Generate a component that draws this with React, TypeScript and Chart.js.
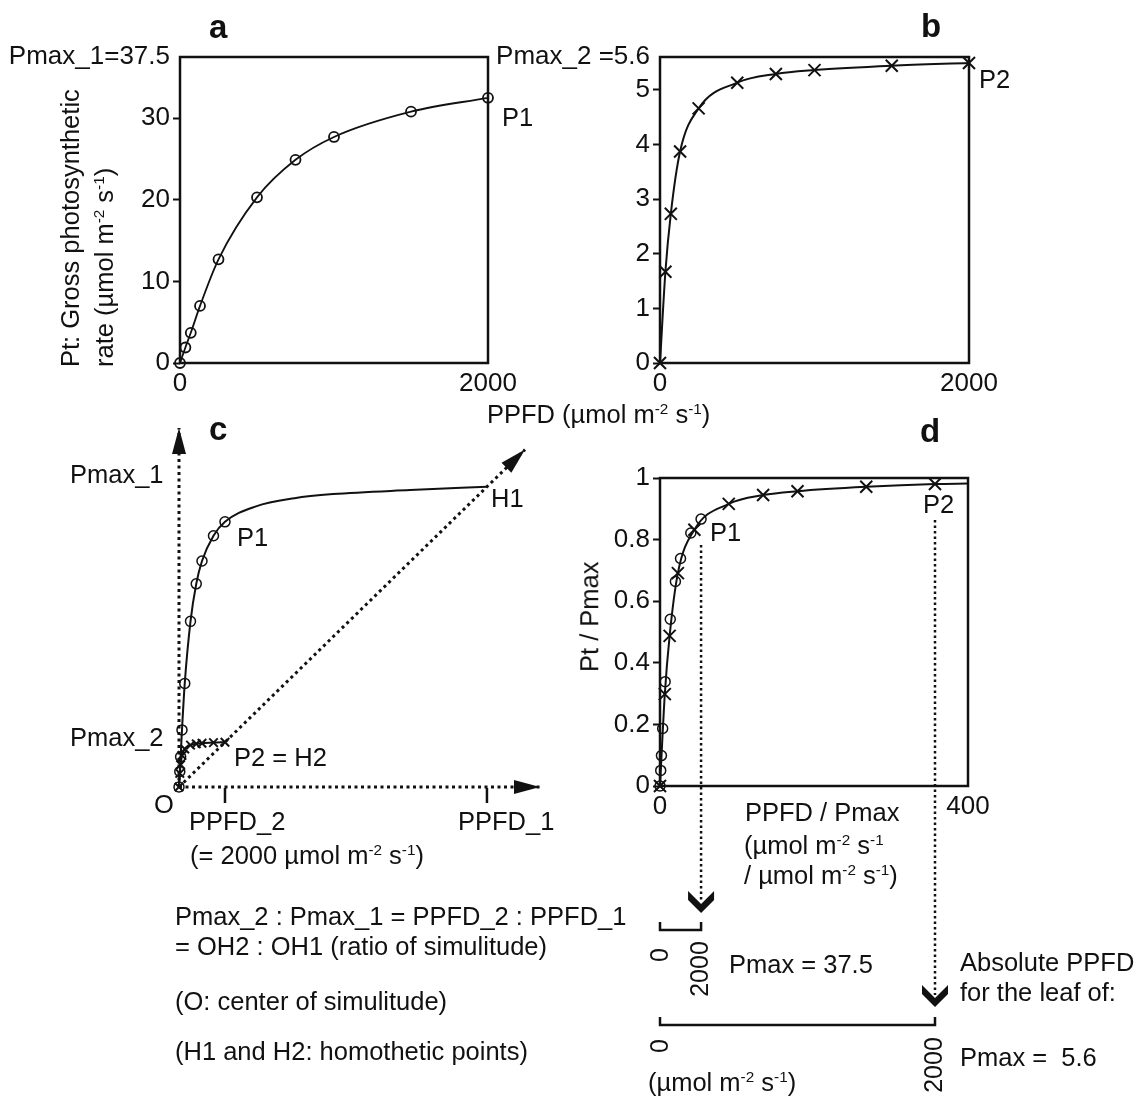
import React, { useEffect, useRef } from "react";
import { Chart, registerables } from "chart.js";

Chart.register(...registerables);

const FONT = "'Liberation Sans', Arial, Helvetica, sans-serif";
const INK = "#111";
Chart.defaults.font.family = FONT;
Chart.defaults.color = INK;

// ---------------- data ----------------
const ppfdLevels = [0, 35, 70, 130, 250, 500, 750, 1000, 1500, 2000];
const ptLeaf1 = [0, 1.9, 3.7, 7.0, 12.7, 20.3, 24.9, 27.7, 30.8, 32.5];
const ptLeaf2 = [0, 1.67, 2.73, 3.87, 4.66, 5.13, 5.29, 5.36, 5.44, 5.49];
const pmaxLeaf1 = 37.5;
const pmaxLeaf2 = 5.6;

const aYTicks = [0, 10, 20, 30];
const bYTicks = [0, 1, 2, 3, 4, 5];
const abXTicks = [0, 2000];
const dXTicks = [0, 400];
const dYTicks = [0, 0.2, 0.4, 0.6, 0.8, 1];

// panel c: leaf-1 curve continued beyond P1 up to the homothetic point H1
const cExtPpfd = [3348, 5022, 6696, 10045, 13393];
const cExtPt = [34.4, 35.4, 35.9, 36.4, 36.8];
const cRange = [15700, 44];
const cDiagTip = [15050, 41.35];
const cPpfdMarks = [2000, 13393];

// panel d: normalised curve reaches the right frame here
const dCurveEnd = [400, 0.982];
const absPpfdMax = 2000;

// ---------------- helpers ----------------
const pts = (xs: number[], ys: number[]) => xs.map((x, i) => ({ x, y: ys[i] }));
const leaf1 = pts(ppfdLevels, ptLeaf1);
const leaf2 = pts(ppfdLevels, ptLeaf2);
const leaf1Norm = pts(ppfdLevels.map((v) => v / pmaxLeaf1), ptLeaf1.map((v) => v / pmaxLeaf1));
const leaf2Norm = pts(ppfdLevels.map((v) => v / pmaxLeaf2), ptLeaf2.map((v) => v / pmaxLeaf2));

const frame = {
  id: "frame",
  afterDatasetsDraw(chart: any) {
    const { ctx, chartArea: a } = chart;
    ctx.save();
    ctx.strokeStyle = INK;
    ctx.lineWidth = 2.5;
    ctx.strokeRect(a.left, a.top, a.right - a.left, a.bottom - a.top);
    ctx.restore();
  },
};

function axes(o: any) {
  return {
    x: {
      type: "linear",
      min: o.xMin,
      max: o.xMax,
      afterBuildTicks: (s: any) => {
        s.ticks = o.xTicks.map((v: number) => ({ value: v }));
      },
      afterFit: (s: any) => {
        s.height = 40;
      },
      grid: { display: false, drawTicks: false },
      border: { display: false },
      ticks: {
        autoSkip: false,
        maxRotation: 0,
        padding: 5,
        color: INK,
        font: { size: 26, family: FONT },
        callback: (v: number) => String(v),
      },
    },
    y: {
      type: "linear",
      min: o.yMin,
      max: o.yMax,
      afterBuildTicks: (s: any) => {
        s.ticks = o.yTicks.map((v: number) => ({ value: v }));
      },
      afterFit: (s: any) => {
        s.width = o.yWidth;
      },
      grid: {
        drawOnChartArea: false,
        drawTicks: true,
        tickLength: 7,
        tickWidth: 2,
        color: INK,
        tickColor: (c: any) => (c.tick && c.tick.value === o.noTick ? "rgba(0,0,0,0)" : INK),
      },
      border: { display: false },
      ticks: {
        autoSkip: false,
        padding: 3,
        color: INK,
        font: { size: 26, family: FONT },
        callback: o.yLabel || ((v: number) => String(v)),
      },
    },
  };
}

const baseOpts = (padding: any) => ({
  responsive: false,
  animation: false,
  devicePixelRatio: 1,
  layout: { padding },
  plugins: { legend: { display: false }, tooltip: { enabled: false } },
  events: [],
});

const circleStyle = { pointStyle: "circle", pointRadius: 5, borderWidth: 1.5, borderColor: INK, backgroundColor: "rgba(0,0,0,0)" };
const crossStyle = { pointStyle: "crossRot", pointRadius: 8.5, borderWidth: 2, borderColor: INK, backgroundColor: INK };

function arrowHead(ctx: any, x1: number, y1: number, x2: number, y2: number, len = 26, half = 7) {
  const ang = Math.atan2(y2 - y1, x2 - x1);
  ctx.save();
  ctx.translate(x2, y2);
  ctx.rotate(ang);
  ctx.beginPath();
  ctx.moveTo(0, 0);
  ctx.lineTo(-len, -half);
  ctx.lineTo(-len, half);
  ctx.closePath();
  ctx.fill();
  ctx.restore();
}

function chevron(ctx: any, x: number, tipY: number) {
  ctx.beginPath();
  ctx.moveTo(x - 13, tipY - 22);
  ctx.lineTo(x, tipY - 9);
  ctx.lineTo(x + 13, tipY - 22);
  ctx.lineTo(x + 13, tipY - 13);
  ctx.lineTo(x, tipY);
  ctx.lineTo(x - 13, tipY - 13);
  ctx.closePath();
  ctx.fill();
}

// ---------------- chart configs ----------------
const configA = () => ({
  type: "scatter",
  data: {
    datasets: [
      { data: leaf1, showLine: true, cubicInterpolationMode: "monotone", clip: false, ...circleStyle, borderWidth: 1.8 },
    ],
  },
  options: {
    ...baseOpts({ left: 0, top: 57, right: 72, bottom: 17 }),
    scales: axes({
      xMin: 0, xMax: 2000, xTicks: abXTicks,
      yMin: 0, yMax: pmaxLeaf1, yTicks: [...aYTicks, pmaxLeaf1], yWidth: 180, noTick: pmaxLeaf1,
      yLabel: (v: number) => (v === pmaxLeaf1 ? "Pmax_1=" + pmaxLeaf1 : String(v)),
    }),
  },
  plugins: [frame],
});

const configB = () => ({
  type: "scatter",
  data: {
    datasets: [
      { data: leaf2, showLine: true, cubicInterpolationMode: "monotone", clip: false, ...crossStyle },
    ],
  },
  options: {
    ...baseOpts({ left: 0, top: 57, right: 175, bottom: 17 }),
    scales: axes({
      xMin: 0, xMax: 2000, xTicks: abXTicks,
      yMin: 0, yMax: pmaxLeaf2, yTicks: [...bYTicks, pmaxLeaf2], yWidth: 170, noTick: pmaxLeaf2,
      yLabel: (v: number) => (v === pmaxLeaf2 ? "Pmax_2 =" + pmaxLeaf2 : String(v)),
    }),
  },
  plugins: [frame],
});

const dotted = { showLine: true, borderDash: [3, 3.5], borderWidth: 3, borderColor: INK, pointRadius: 0, clip: false };

const cDecor = {
  id: "cDecor",
  afterDatasetsDraw(chart: any) {
    const { ctx } = chart;
    const xs = chart.scales.x;
    const ys = chart.scales.y;
    const ox = xs.getPixelForValue(0);
    const oy = ys.getPixelForValue(0);
    ctx.save();
    ctx.fillStyle = INK;
    ctx.strokeStyle = INK;
    const tips = [[0, cRange[1]], [cRange[0], 0], cDiagTip];
    tips.forEach(([vx, vy]) => arrowHead(ctx, ox, oy, xs.getPixelForValue(vx), ys.getPixelForValue(vy)));
    ctx.lineWidth = 2.5;
    cPpfdMarks.forEach((v) => {
      const px = xs.getPixelForValue(v);
      ctx.beginPath();
      ctx.moveTo(px, oy + 1);
      ctx.lineTo(px, oy + 16);
      ctx.stroke();
    });
    ctx.restore();
  },
};

const configC = () => ({
  type: "scatter",
  data: {
    datasets: [
      { data: [...leaf1, ...pts(cExtPpfd, cExtPt)], showLine: true, cubicInterpolationMode: "monotone", borderWidth: 2, borderColor: INK, pointRadius: 0, clip: false },
      { data: leaf1, showLine: false, clip: false, ...circleStyle },
      { data: leaf2, showLine: true, cubicInterpolationMode: "monotone", clip: false, ...crossStyle, pointRadius: 6 },
      { data: [{ x: 0, y: 0 }, { x: 0, y: cRange[1] }], ...dotted },
      { data: [{ x: 0, y: 0 }, { x: cRange[0], y: 0 }], ...dotted },
      { data: [{ x: 0, y: 0 }, { x: cDiagTip[0], y: cDiagTip[1] }], ...dotted },
    ],
  },
  options: {
    ...baseOpts({ left: 179, top: 8, right: 20, bottom: 313 }),
    scales: {
      x: { type: "linear", display: false, min: 0, max: cRange[0] },
      y: { type: "linear", display: false, min: 0, max: cRange[1] },
    },
  },
  plugins: [cDecor],
});

const dGuides = {
  id: "dGuides",
  afterDraw(chart: any) {
    const { ctx } = chart;
    const xs = chart.scales.x;
    const x0 = xs.getPixelForValue(0);
    const x1 = xs.getPixelForValue(absPpfdMax / pmaxLeaf1);
    const x2 = xs.getPixelForValue(absPpfdMax / pmaxLeaf2);
    ctx.save();
    ctx.strokeStyle = INK;
    ctx.fillStyle = INK;
    const seg = (ax: number, ay: number, bx: number, by: number) => {
      ctx.beginPath();
      ctx.moveTo(ax, ay);
      ctx.lineTo(bx, by);
      ctx.stroke();
    };
    ctx.lineWidth = 2.5;
    ctx.setLineDash([2.5, 3]);
    seg(x1, 125, x1, 480);
    seg(x2, 100, x2, 575);
    ctx.setLineDash([]);
    chevron(ctx, x1, 493);
    chevron(ctx, x2, 587);
    const bracket = (a: number, b: number, y: number) => {
      ctx.beginPath();
      ctx.moveTo(a, y - 8);
      ctx.lineTo(a, y);
      ctx.lineTo(b, y);
      ctx.lineTo(b, y - 8);
      ctx.stroke();
    };
    bracket(x0, x1, 510);
    bracket(x0, x2, 605);
    const vtext = (t: string, x: number, y: number) => {
      ctx.save();
      ctx.translate(x, y);
      ctx.rotate(-Math.PI / 2);
      ctx.font = "25px " + FONT;
      ctx.textAlign = "center";
      ctx.textBaseline = "middle";
      ctx.fillText(t, 0, 0);
      ctx.restore();
    };
    vtext("0", x0 + 1, 535);
    vtext(String(absPpfdMax), x1, 549);
    vtext("0", x0 + 1, 626);
    vtext(String(absPpfdMax), x2, 645);
    ctx.restore();
  },
};

const configD = () => ({
  type: "scatter",
  data: {
    datasets: [
      { data: [...leaf2Norm, { x: dCurveEnd[0], y: dCurveEnd[1] }], showLine: true, cubicInterpolationMode: "monotone", borderWidth: 2, borderColor: INK, pointRadius: 0, clip: false },
      { data: leaf1Norm, showLine: false, clip: false, ...circleStyle },
      { data: leaf2Norm, showLine: false, clip: false, ...crossStyle },
    ],
  },
  options: {
    ...baseOpts({ left: 0, top: 58, right: 176, bottom: 274 }),
    scales: axes({
      xMin: 0, xMax: 400, xTicks: dXTicks,
      yMin: 0, yMax: 1, yTicks: dYTicks, yWidth: 100, noTick: -1,
    }),
  },
  plugins: [frame, dGuides],
});

// ---------------- components ----------------
function ChartBox({ left, top, width, height, make }: any) {
  const ref = useRef<HTMLCanvasElement>(null);
  useEffect(() => {
    const chart = new Chart(ref.current as any, make() as any);
    return () => chart.destroy();
  }, []);
  return (
    <div style={{ position: "absolute", left, top, width, height }}>
      <canvas ref={ref} width={width} height={height} style={{ display: "block" }} />
    </div>
  );
}

const Sup = ({ children }: any) => (
  <span style={{ fontSize: "0.6em", verticalAlign: "0.6em" }}>{children}</span>
);
const Unit = () => (
  <>
    µmol m<Sup>-2</Sup> s<Sup>-1</Sup>
  </>
);

const T = ({ x, y, children, size = 25.5, bold = false }: any) => (
  <div
    style={{
      position: "absolute",
      left: x,
      top: y,
      transform: "translateY(-50%)",
      fontSize: size,
      fontWeight: bold ? 700 : 400,
      lineHeight: 1,
      whiteSpace: "pre",
    }}
  >
    {children}
  </div>
);

const VT = ({ x, y, children, size = 25.5 }: any) => (
  <div
    style={{
      position: "absolute",
      left: x,
      top: y,
      transformOrigin: "0 0",
      transform: "rotate(-90deg) translateY(-50%)",
      fontSize: size,
      lineHeight: 1,
      whiteSpace: "nowrap",
    }}
  >
    {children}
  </div>
);

export default function App() {
  return (
    <div
      style={{
        position: "absolute",
        left: 0,
        top: 0,
        width: 1144,
        height: 1100,
        background: "#fff",
        fontFamily: FONT,
        color: INK,
        overflow: "hidden",
      }}
    >
      <ChartBox left={0} top={0} width={560} height={420} make={configA} />
      <ChartBox left={490} top={0} width={654} height={420} make={configB} />
      <ChartBox left={0} top={420} width={560} height={680} make={configC} />
      <ChartBox left={560} top={420} width={584} height={680} make={configD} />

      {/* panel a / b */}
      <T x={209} y={26} size={33} bold>a</T>
      <T x={921} y={25} size={33} bold>b</T>
      <VT x={71} y={367}>Pt: Gross photosynthetic</VT>
      <VT x={104} y={367}>
        rate (<Unit />)
      </VT>
      <T x={502} y={118}>P1</T>
      <T x={979} y={80}>P2</T>
      <T x={487} y={414}>
        PPFD (<Unit />)
      </T>

      {/* panel c */}
      <T x={209} y={428} size={33} bold>c</T>
      <T x={70} y={475}>Pmax_1</T>
      <T x={70} y={738}>Pmax_2</T>
      <T x={154} y={805}>O</T>
      <T x={237} y={538}>P1</T>
      <T x={234} y={758}>P2 = H2</T>
      <T x={491} y={499}>H1</T>
      <T x={189} y={822}>PPFD_2</T>
      <T x={458} y={822}>PPFD_1</T>
      <T x={190} y={855}>
        (= 2000 <Unit />)
      </T>
      <T x={175} y={917}>Pmax_2 : Pmax_1 = PPFD_2 : PPFD_1</T>
      <T x={175} y={947}>= OH2 : OH1 (ratio of simulitude)</T>
      <T x={175} y={1002}>(O: center of simulitude)</T>
      <T x={175} y={1052}>(H1 and H2: homothetic points)</T>

      {/* panel d */}
      <T x={920} y={430} size={33} bold>d</T>
      <VT x={590} y={672}>Pt / Pmax</VT>
      <T x={710} y={533}>P1</T>
      <T x={923} y={505}>P2</T>
      <T x={745} y={813}>PPFD / Pmax</T>
      <T x={744} y={845}>
        (<Unit />
      </T>
      <T x={744} y={875}>
        / <Unit />)
      </T>
      <T x={729} y={965}>Pmax = 37.5</T>
      <T x={960} y={963}>Absolute PPFD</T>
      <T x={960} y={993}>for the leaf of:</T>
      <T x={960} y={1058}>Pmax =  5.6</T>
      <T x={648} y={1082}>
        (<Unit />)
      </T>
    </div>
  );
}
